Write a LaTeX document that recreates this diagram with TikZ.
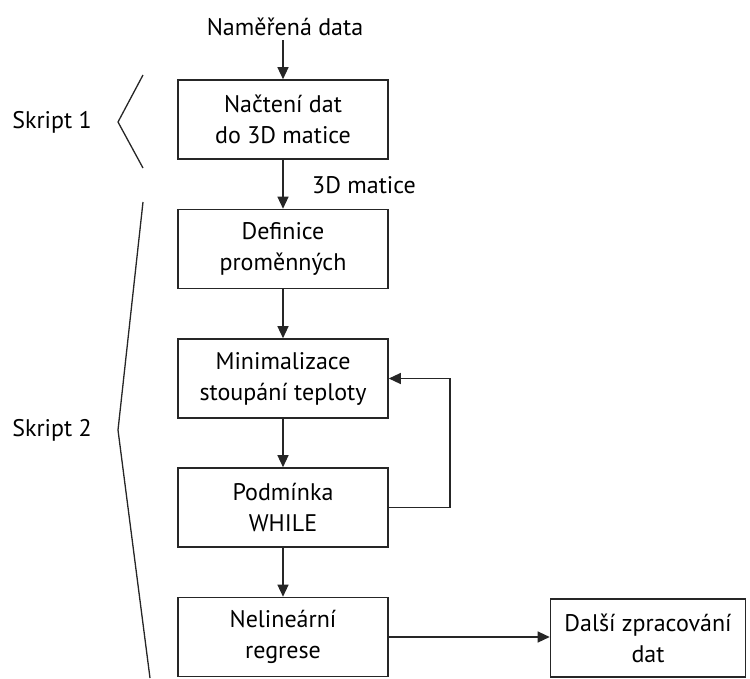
\documentclass[tikz,border=0pt]{standalone}
\usepackage{fontspec}
\setmainfont{PT Sans}
\usetikzlibrary{arrows.meta}
\begin{document}
\begin{tikzpicture}[x=1pt,y=-1pt,
  box/.style={draw=black!85,line width=1.6pt,minimum width=210pt,minimum height=79pt,align=center,inner sep=0pt,font=\fontsize{24}{31}\selectfont},
  lbl/.style={font=\fontsize{24}{31}\selectfont,inner sep=0pt},
  conn/.style={draw=black!85,line width=1.3pt,-{Triangle[length=12pt,width=11pt]}},
  brace/.style={draw=black!85,line width=1.3pt}]
\useasboundingbox (0,0) rectangle (750,678);
\node[lbl] (src) at (285,27) {Naměřená data};
\node[box] (b1) at (283,119.5) {Načtení dat\\do 3D matice};
\node[box] (b2) at (283,249) {Definice\\proměnných};
\node[box] (b3) at (283,378.5) {Minimalizace\\stoupání teploty};
\node[box] (b4) at (283,507.5) {Podmínka\\WHILE};
\node[box] (b5) at (283,637) {Nelineární\\regrese};
\node[box,minimum width=195pt,minimum height=78pt] (b6) at (648,638) {Další zpracování\\dat};
\node[lbl,anchor=west] (m3d) at (312,185) {3D matice};
\node[lbl] (s1) at (52,122) {Skript 1};
\node[lbl] (s2) at (52,430) {Skript 2};
\coordinate (l1) at (283,40);
\draw[conn] (l1) -- (b1.north);
\draw[conn] (b1.south) -- (b2.north);
\draw[conn] (b2.south) -- (b3.north);
\draw[conn] (b3.south) -- (b4.north);
\draw[conn] (b4.south) -- (b5.north);
\draw[conn] (b4.east) -- (450,507.5) |- (b3.east);
\draw[conn] (b5.east) -- (b5.east -| b6.west);
\draw[brace] (143,75) -- (118,122) -- (143,168);
\draw[brace] (143,202) -- (118,430) -- (150,678);
\end{tikzpicture}
\end{document}
